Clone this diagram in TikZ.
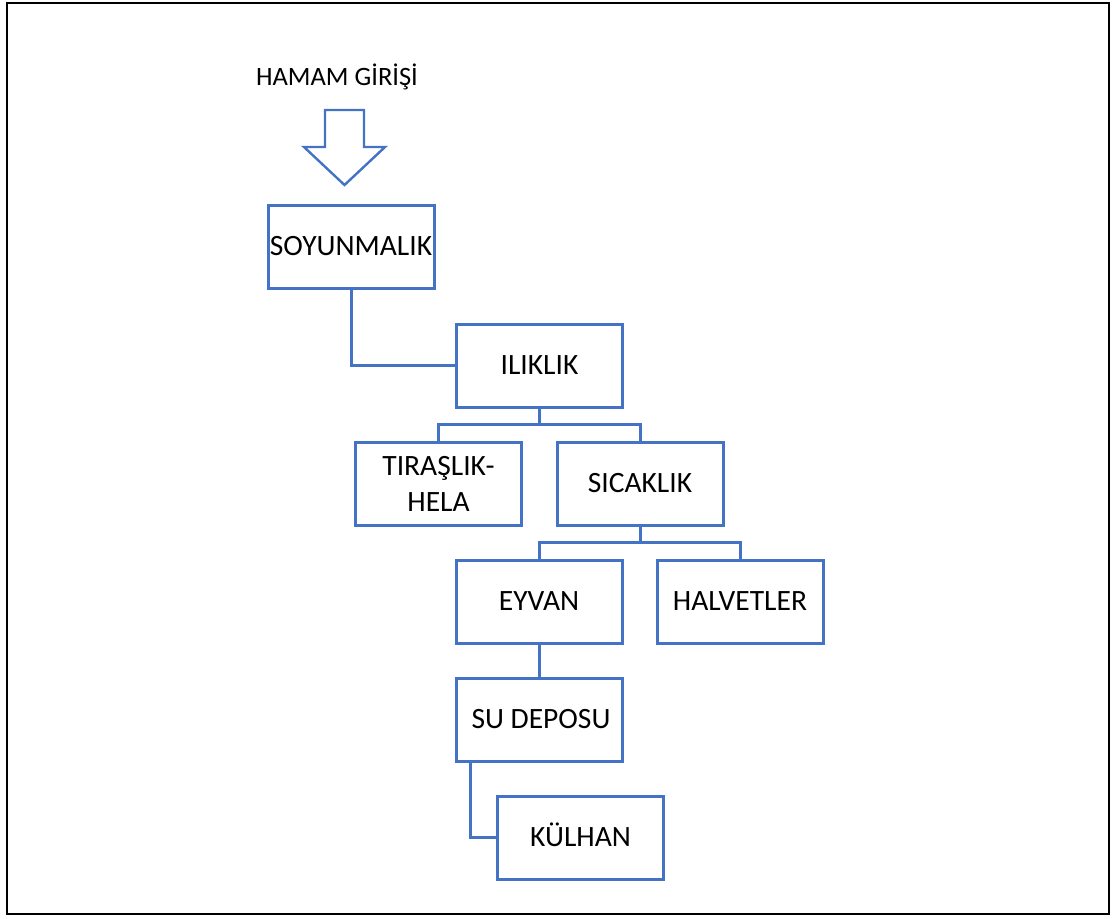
\documentclass[tikz,border=0pt]{standalone}
\usepackage{fontspec}
\setmainfont{Carlito}
\usetikzlibrary{calc}
\definecolor{boxblue}{HTML}{4472C4}
\begin{document}
\begin{tikzpicture}[x=1pt,y=-1pt,
  lbl/.style={font=\fontsize{29.5}{36}\selectfont},
  room/.style={lbl, draw=boxblue, line width=3pt, minimum width=166pt, minimum height=83pt, inner sep=0pt, text height=18.5pt, text depth=0pt},
  room2/.style={lbl, draw=boxblue, line width=3pt, minimum width=166pt, minimum height=83pt, inner sep=0pt, align=center},
  link/.style={draw=boxblue, line width=3pt},
]
\useasboundingbox (0,0) rectangle (1115,918);
\draw[line width=2pt] (7,3) rectangle (1109,914);

\node[font=\fontsize{26.5}{32}\selectfont, anchor=base] (title) at (337,85) {HAMAM GİRİŞİ};
\draw[boxblue, line width=2.4pt, fill=white, line join=miter]
  (325,110) -- (364,110) -- (364,147) -- (385,147) -- (344.5,185) -- (304,147) -- (325,147) -- cycle;

\node[room] (soy) at (351,246.5) {SOYUNMALIK};
\node[room] (ilik) at (539.5,365.5) {ILIKLIK};
\node[room2] (tir) at (438.5,483.5) {TIRAŞLIK-\\HELA};
\node[room] (sic) at (640,483.5) {SICAKLIK};
\node[room] (eyv) at (539,601.5) {EYVAN};
\node[room] (hal) at (740,601.5) {HALVETLER};
\node[room] (su) at (539,719.5) {\hspace{4pt}SU DEPOSU};
\node[room] (kul) at (580.5,837.5) {KÜLHAN};

\coordinate (b1) at (539.5,424.5);
\coordinate (b2) at (640,542.5);

\draw[link] (soy.south) |- (ilik.west);
\draw[link] (ilik.south) -- (b1) -| (tir.north);
\draw[link] (b1) -| (sic.north);
\draw[link] (sic.south) -- (b2) -| (eyv.north);
\draw[link] (b2) -| (hal.north);
\draw[link] (eyv.south) -- (su.north);
\draw[link] ([xshift=16pt]su.south west) |- (kul.west);
\end{tikzpicture}
\end{document}
